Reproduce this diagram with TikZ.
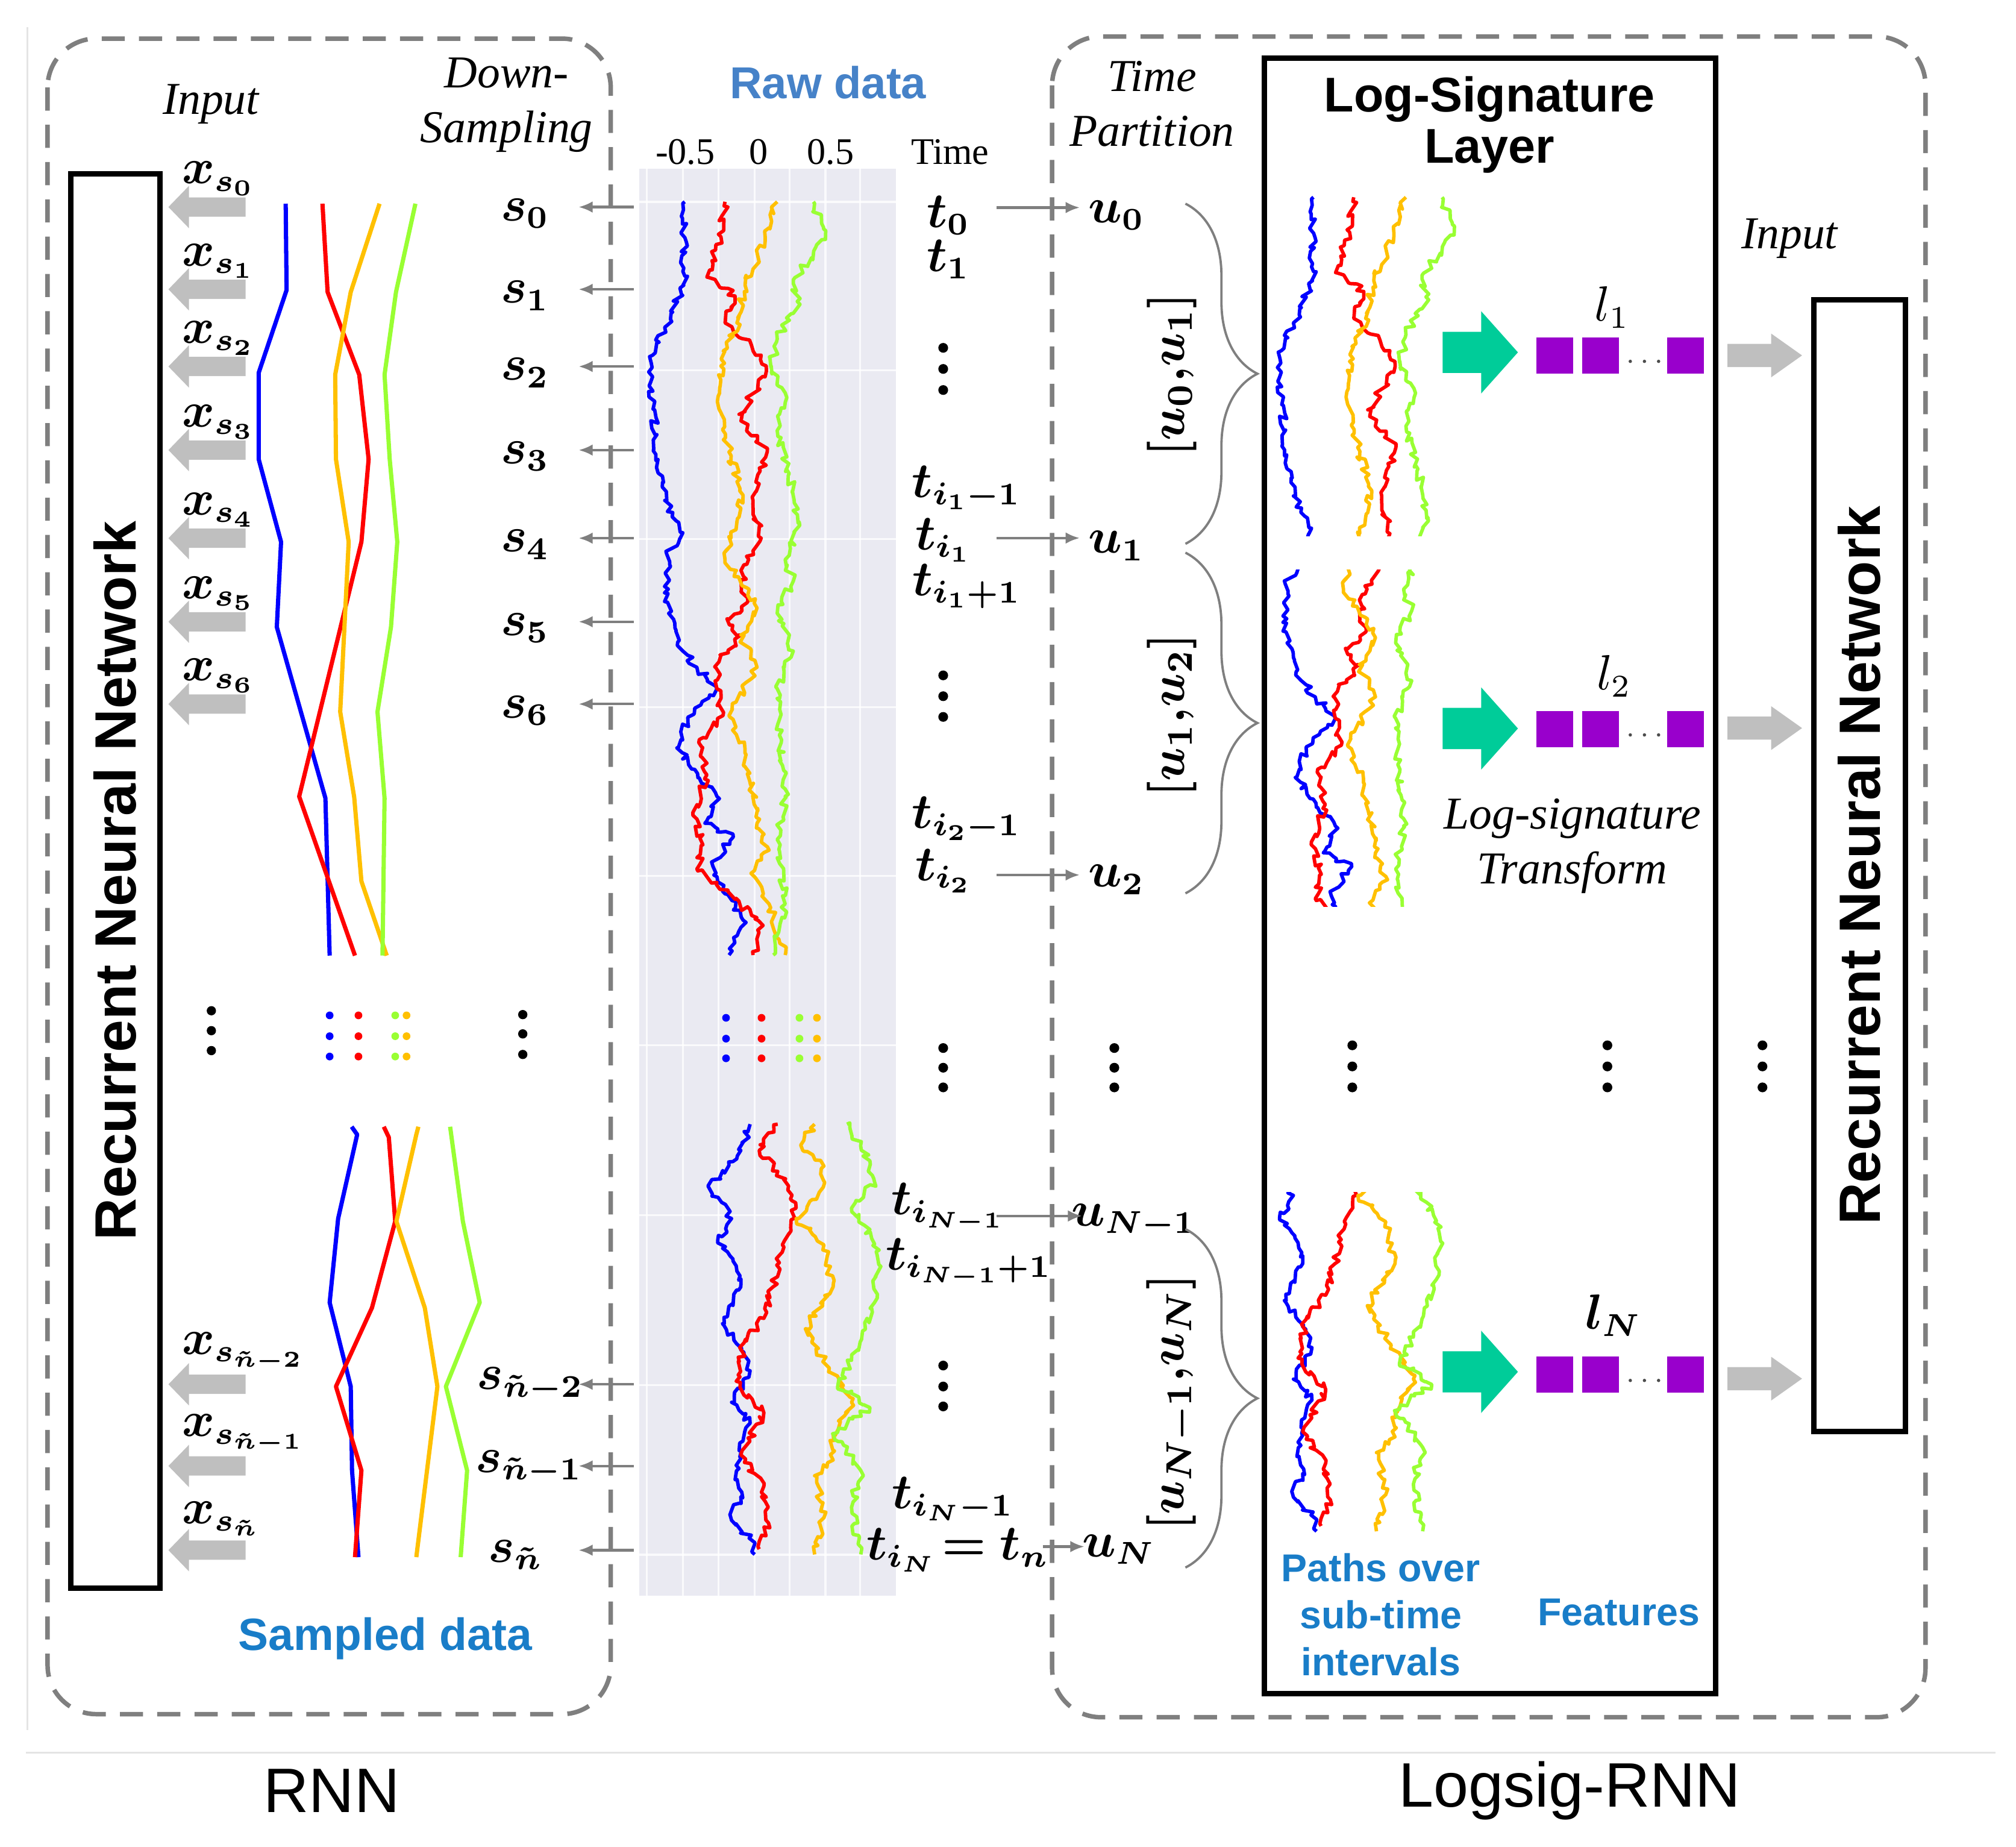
\documentclass[tikz,border=0pt]{standalone}
\usepackage{amsmath}
\usepackage{bm}
\usepackage{fontspec}
\setmainfont{Liberation Serif}
\setsansfont{Liberation Sans}
\usetikzlibrary{arrows.meta,decorations.pathmorphing,decorations.pathreplacing}
\definecolor{dgray}{RGB}{127,127,127}
\definecolor{lgray}{RGB}{191,191,191}
\definecolor{faintc}{RGB}{228,228,228}
\definecolor{rawbg}{RGB}{234,234,242}
\definecolor{pblue}{RGB}{0,0,255}
\definecolor{pred}{RGB}{255,0,0}
\definecolor{porange}{RGB}{255,192,0}
\definecolor{pgreen}{RGB}{153,255,51}
\definecolor{tealg}{RGB}{0,204,153}
\definecolor{purp}{RGB}{153,0,204}
\definecolor{rawtitle}{RGB}{70,130,200}
\definecolor{labblue}{RGB}{25,125,200}

% raw data paths (top part)
\newcommand\rawBT[1]{\draw[#1] (532.6,156.9) -- (531.8,221.8) -- (523.2,242.7) -- (507.6,276.2) -- (506.1,297.1) -- (512.3,368.2) -- (517,389.2) -- (531.1,414.3) -- (518.6,431) -- (520.1,477) -- (531.1,506.3) -- (542,518.9) -- (557.6,535.6) -- (545.1,548.2) -- (529.5,569.1) -- (526.4,581.6) -- (540.4,598.4) -- (557.6,619.3) -- (548.2,640.2) -- (570.1,648.6) -- (554.5,673.7) -- (577.9,715.5) -- (567,742.7);}
\newcommand\rawRT[1]{\draw[#1] (563.9,156.9) -- (560.7,184.1) -- (549.8,215.5) -- (571.7,230.2) -- (563.9,251.1) -- (592,276.2) -- (595.1,293) -- (574.8,322.2) -- (596.7,351.5) -- (585.7,389.2) -- (592,418.5) -- (576.3,443.6) -- (581,468.7) -- (565.4,481.2) -- (576.3,493.8) -- (559.2,514.7) -- (557.6,535.6) -- (562.3,556.5) -- (543.5,577.5) -- (549.8,602.6) -- (538.9,631.8) -- (546.7,656.9) -- (542,675.8) -- (557.6,686.2) -- (593.5,719.7) -- (585.7,742.7);}
\newcommand\rawOT[1]{\draw[#1] (604.5,156.9) -- (595.1,184.1) -- (585.7,209.2) -- (579.5,221.8) -- (573.2,251.1) -- (560.7,284.6) -- (559.2,318) -- (567,351.5) -- (577.9,385) -- (563.9,435.2) -- (588.8,472.8) -- (576.3,493.8) -- (588.8,518.9) -- (567,556.5) -- (579.5,585.8) -- (588.8,640.2) -- (598.2,661.1) -- (585.7,677.9) -- (598.2,703) -- (610.7,742.7);}
\newcommand\rawGT[1]{\draw[#1] (632.6,156.9) -- (642,186.2) -- (617,217.6) -- (620.1,234.4) -- (604.5,263.6) -- (599.8,284.6) -- (610.7,305.5) -- (604.5,334.8) -- (613.8,368.2) -- (621.6,405.9) -- (610.7,435.2) -- (617,451.9) -- (604.5,477) -- (617,506.3) -- (604.5,535.6) -- (607.6,577.5) -- (610.7,619.3) -- (604.5,652.8) -- (610.7,703) -- (601.4,742.7);}
% raw data paths (bottom part)
\newcommand\rawBB[1]{\draw[#1] (583.4,874.2) -- (576.2,894.6) -- (551.1,923.1) -- (569.0,947.6) -- (558.3,964) -- (572.6,984.4) -- (576.2,1000.7) -- (561.9,1029.3) -- (576.2,1049.7) -- (583.4,1066) -- (569.0,1090.5) -- (583.4,1106.8) -- (572.6,1139.5) -- (576.2,1164) -- (569.0,1182.3) -- (587.0,1200.7) -- (587.0,1208.8);}
\newcommand\rawRB[1]{\draw[#1] (604.9,874.2) -- (590.5,894.6) -- (604.9,910.9) -- (619.2,939.5) -- (608.5,968) -- (601.3,1000.7) -- (594.1,1025.2) -- (579.8,1041.5) -- (572.6,1074.1) -- (594.1,1098.6) -- (576.2,1131.3) -- (594.1,1155.8) -- (597.7,1184.3) -- (590.5,1204.7);}
\newcommand\rawOB[1]{\draw[#1] (633.6,874.2) -- (622.8,890.5) -- (640.8,906.8) -- (637.2,927.2) -- (619.2,947.6) -- (640.8,968) -- (648.0,1000.7) -- (626.4,1033.3) -- (640.8,1057.8) -- (662.3,1090.5) -- (648.0,1115) -- (648.0,1135.4) -- (633.6,1147.6) -- (640.8,1180.3) -- (633.6,1208.8);}
\newcommand\rawGB[1]{\draw[#1] (658.7,874.2) -- (676.6,902.7) -- (680.2,919.1) -- (662.3,939.5) -- (683.8,972.1) -- (680.2,1012.9) -- (662.3,1057.8) -- (651.5,1078.2) -- (676.6,1094.6) -- (648.0,1115) -- (669.5,1143.5) -- (662.3,1172.1) -- (669.5,1208.8);}
\newcommand\rawTop{%
  \pgfmathsetseed{101}\rawBT{rawline,pblue}%
  \pgfmathsetseed{102}\rawRT{rawline,pred}%
  \pgfmathsetseed{103}\rawOT{rawline,porange}%
  \pgfmathsetseed{104}\rawGT{rawline,pgreen}}
\newcommand\rawBot{%
  \pgfmathsetseed{201}\rawBB{rawline,pblue}%
  \pgfmathsetseed{202}\rawRB{rawline,pred}%
  \pgfmathsetseed{203}\rawOB{rawline,porange}%
  \pgfmathsetseed{204}\rawGB{rawline,pgreen}}

\tikzset{
  faint/.style={draw=faintc, line width=0.15mm},
  dashbox/.style={draw=dgray, line width=0.35mm, dash pattern=on 1.8mm off 1.1mm, rounded corners=3.8mm},
  nnbox/.style={draw=black, line width=0.42mm, inner sep=0pt},
  nntext/.style={font=\sffamily\bfseries\fontsize{12.9}{15}\selectfont, rotate=90, inner sep=0pt},
  itlab/.style={font=\itshape\fontsize{10.1}{12.1}\selectfont, align=center, inner sep=0pt},
  ticklab/.style={font=\fontsize{8.3}{10}\selectfont, inner sep=0pt},
  mlab/.style={font=\fontsize{10.6}{12}\selectfont, inner sep=0pt},
  brlab/.style={font=\fontsize{11}{13}\selectfont, inner sep=0pt, rotate=90},
  bluetitle/.style={font=\sffamily\bfseries\fontsize{9.9}{12}\selectfont, text=rawtitle, inner sep=0pt},
  bluelab/.style={font=\sffamily\bfseries\fontsize{8.6}{10.4}\selectfont, text=labblue, align=center, inner sep=0pt},
  smallarr/.style={draw=dgray, line width=0.2mm, -{Latex[length=1.1mm,width=0.9mm]}},
  dsline/.style={line width=0.33mm, line join=round},
  rawline/.style={line width=0.27mm, line join=round, decorate, decoration={random steps, segment length=0.33mm, amplitude=0.3mm}},
  brc/.style={draw=dgray, line width=0.18mm, decorate, decoration={brace, amplitude=5.6mm}},
  sq/.style={fill=purp, draw=none, minimum width=2.85mm, minimum height=2.8mm, inner sep=0pt},
  caption/.style={font=\sffamily\fontsize{13.9}{16}\selectfont, inner sep=0pt},
  inarr/.pic={\fill[lgray] (0,0) -- (16,-16.5) -- (16,-7.5) -- (60,-7.5) -- (60,7.5) -- (16,7.5) -- (16,16.5) -- cycle;},
  outarr/.pic={\fill[lgray] (0,0) -- (-24,-17) -- (-24,-9) -- (-58,-9) -- (-58,9) -- (-24,9) -- (-24,17) -- cycle;},
  tealarr/.pic={\fill[tealg] (0,0) -- (-28.6,-32) -- (-28.6,-16) -- (-58.6,-16) -- (-58.6,16) -- (-28.6,16) -- (-28.6,32) -- cycle;},
}

\begin{document}
\begin{tikzpicture}[x=0.1mm,y=-0.1mm]
\useasboundingbox (0,0) rectangle (1568,1436);

% faint frame lines
\draw[faint] (21.4,21) -- (21.4,1345.6);
\draw[faint] (20,1363) -- (1552,1363);

% raw data background and grid
\fill[rawbg] (497,131) rectangle (697,1241);
\foreach \gx in {503,531,559,587,614,642,669}
  \draw[white, line width=0.15mm, opacity=0.8] (\gx,131) -- (\gx,1241);
\foreach \gy in {157,288,419,550,681,813,945,1077,1209}
  \draw[white, line width=0.15mm, opacity=0.8] (497,\gy) -- (697,\gy);

% dashed panels
\draw[dashbox] (37,30) rectangle (475,1333);
\draw[dashbox] (818.3,28.4) rectangle (1497.6,1335.4);

% RNN boxes
\node[nnbox, minimum width=6.91mm, minimum height=110mm] (rnnL) at (89.7,685) {};
\node[nntext] (rnnLt) at (rnnL.center) {Recurrent Neural Network};
\node[nnbox, minimum width=7.13mm, minimum height=88mm] (rnnR) at (1446.2,673) {};
\node[nntext] (rnnRt) at (rnnR.center) {Recurrent Neural Network};
\node[nnbox, minimum width=35.09mm, minimum height=127.16mm] (lsbox) at (1159,681.2) {};

% titles
\node[itlab] (inL) at (164,81) {Input};
\node[itlab] (dsL) at (394,81.5) {Down-\\Sampling};
\node[bluetitle] (rawT) at (644,64) {Raw data};
\node[ticklab] (tk1) at (533,118) {-0.5};
\node[ticklab] (tk2) at (590,118) {0};
\node[ticklab] (tk3) at (646,118) {0.5};
\node[ticklab] (tk4) at (739,118) {Time};
\node[itlab] (tpart) at (896,80.7) {Time\\Partition};
\node[font=\sffamily\bfseries\fontsize{10.8}{11.4}\selectfont, align=center, inner sep=0pt] (lsT) at (1158.6,97) {Log-Signature\\Layer};
\node[itlab] (inR) at (1391.8,185.3) {Input};
\node[font=\sffamily\bfseries\fontsize{10}{12}\selectfont, text=labblue, inner sep=0pt] (sampT) at (299.8,1274.2) {Sampled data};

% left panel: input arrows and x labels
\foreach \k/\yy in {0/161,1/225,2/285,3/350,4/418.5,5/483.5,6/547.5}{
  \pic at (131,\yy) {inarr};
  \node[mlab, anchor=west] (x\k) at (141,\yy-22) {$\bm{x_{s_{\k}}}$};
  \coordinate (sa\k) at (493,\yy);
  \coordinate (sb\k) at (450,\yy);
  \draw[smallarr] (sa\k) -- (sb\k);
  \node[mlab] (s\k) at (408.6,\yy+5) {$\bm{s_{\k}}$};
}
\pic at (131,1076.5) {inarr};
\pic at (131,1140) {inarr};
\pic at (131,1205.5) {inarr};
\node[mlab, anchor=west] (xa) at (141,1051.5) {$\bm{x_{s_{\tilde{n}-2}}}$};
\node[mlab, anchor=west] (xb) at (141,1115.5) {$\bm{x_{s_{\tilde{n}-1}}}$};
\node[mlab, anchor=west] (xc) at (141,1181) {$\bm{x_{s_{\tilde{n}}}}$};
\coordinate (saa) at (493,1076.5); \coordinate (sba) at (450,1076.5);
\coordinate (sab) at (493,1140);   \coordinate (sbb) at (450,1140);
\coordinate (sac) at (493,1205.5); \coordinate (sbc) at (450,1205.5);
\draw[smallarr] (saa) -- (sba);
\draw[smallarr] (sab) -- (sbb);
\draw[smallarr] (sac) -- (sbc);
\node[mlab] (sna) at (412.6,1077) {$\bm{s_{\tilde{n}-2}}$};
\node[mlab] (snb) at (411.6,1141.5) {$\bm{s_{\tilde{n}-1}}$};
\node[mlab] (snc) at (401,1209) {$\bm{s_{\tilde{n}}}$};

% left panel: down-sampled paths
\draw[dsline, pblue] (222.2,158.4) -- (222.9,225.6) -- (201.2,289.9) -- (201.2,357.1) -- (218.6,421.4) -- (215.3,487.6) -- (253.1,620.7) -- (256.4,743.1);
\draw[dsline, pred] (250.8,158.4) -- (254.8,227.1) -- (279.4,291.4) -- (286.7,357.1) -- (281.1,421.4) -- (232.7,619.4) -- (276.1,743.1);
\draw[dsline, porange] (295.2,158.4) -- (272.8,227.1) -- (260.7,291.4) -- (261.3,357.1) -- (271.2,421.4) -- (264.6,553.5) -- (275.5,620) -- (281.1,685.3) -- (300.8,743.1);
\draw[dsline, pgreen] (323.1,158.4) -- (308,227.1) -- (299.1,291.4) -- (303.1,357.1) -- (309,421.4) -- (304.1,487.6) -- (293.6,553.5) -- (299.1,620.7) -- (297.5,743.1);
\draw[dsline, pblue] (273.5,876.2) -- (277.8,882.3) -- (263,947.6) -- (256.4,1012.9) -- (272.8,1078.2) -- (273.8,1143.5) -- (278.8,1210.9);
\draw[dsline, pred] (298.5,876.2) -- (302.4,884.4) -- (307.4,949.7) -- (289.3,1017) -- (261.3,1078.2) -- (281.1,1143.5) -- (276.1,1210.9);
\draw[dsline, porange] (325.4,876.2) -- (323.8,882.3) -- (308.3,949.7) -- (330.4,1017) -- (340.2,1078.2) -- (323.8,1210.9);
\draw[dsline, pgreen] (350.1,876.2) -- (360,949.7) -- (373.1,1012.9) -- (346.8,1078.2) -- (363.3,1143.5) -- (358.3,1210.9);

% dots (left panel)
\foreach \yy in {789.6,805.8,821.6}{
  \fill[pblue] (256.4,\yy) circle[radius=3];
  \fill[pred] (278.8,\yy) circle[radius=3];
  \fill[pgreen] (307.4,\yy) circle[radius=3];
  \fill[porange] (316.2,\yy) circle[radius=3];
}
\foreach \yy in {786,801.5,817} \fill (164.4,\yy) circle[radius=3.6];
\foreach \yy in {789,804,820} \fill (406.6,\yy) circle[radius=3.6];

% raw data paths
\rawTop
\rawBot
\foreach \yy in {791.5,807.7,823}{
  \fill[pblue] (564.7,\yy) circle[radius=3];
  \fill[pred] (592.3,\yy) circle[radius=3];
  \fill[pgreen] (621.8,\yy) circle[radius=3];
  \fill[porange] (635.4,\yy) circle[radius=3];
}

% time labels
\node[mlab] (t0) at (737.6,167.4) {$\bm{t_0}$};
\node[mlab] (t1) at (737.6,201.7) {$\bm{t_1}$};
\node[mlab] (ti1m) at (752,379.6) {$\bm{t_{i_1-1}}$};
\node[mlab] (ti1) at (734,420) {$\bm{t_{i_1}}$};
\node[mlab] (ti1p) at (752,456) {$\bm{t_{i_1+1}}$};
\node[mlab] (ti2m) at (752,636.9) {$\bm{t_{i_2-1}}$};
\node[mlab] (ti2) at (734,677.2) {$\bm{t_{i_2}}$};
\node[mlab] (tiNm) at (737.6,939.5) {$\bm{t_{i_{N-1}}}$};
\node[mlab] (tiNp) at (753.7,982.3) {$\bm{t_{i_{N-1}+1}}$};
\node[mlab] (tiNb) at (741.2,1166) {$\bm{t_{i_N-1}}$};
\node[mlab] (tiN) at (745,1205.5) {$\bm{t_{i_N}\!= t_n}$};
\foreach \yy in {270.5,286.9,303.3,525.2,541.4,557.5,815,830.3,845.6,1061.9,1078.2,1093.7}
  \fill (733.6,\yy) circle[radius=3.8];

% u labels and arrows
\node[mlab] (u0) at (868.5,167.4) {$\bm{u_0}$};
\node[mlab] (u1) at (868.5,424.4) {$\bm{u_1}$};
\node[mlab] (u2) at (868.5,684) {$\bm{u_2}$};
\node[mlab] (uNm) at (882,949.7) {$\bm{u_{N-1}}$};
\node[mlab] (uN) at (870.3,1204.8) {$\bm{u_N}$};
\coordinate (a0s) at (775.3,161.4); \coordinate (a0e) at (839.8,161.4);
\coordinate (a1s) at (775.3,418.4); \coordinate (a1e) at (839.8,418.4);
\coordinate (a2s) at (775.3,680.4); \coordinate (a2e) at (839.8,680.4);
\coordinate (a3s) at (775.3,945.6); \coordinate (a3e) at (841.6,945.6);
\coordinate (a4s) at (811,1202.7); \coordinate (a4e) at (843.4,1202.7);
\draw[smallarr] (a0s) -- (a0e);
\draw[smallarr] (a1s) -- (a1e);
\draw[smallarr] (a2s) -- (a2e);
\draw[smallarr] (a3s) -- (a3e);
\draw[smallarr] (a4s) -- (a4e);
\foreach \yy in {815,830.3,845.6} \fill (866.7,\yy) circle[radius=3.8];

% braces
\coordinate (b1t) at (922,158.4); \coordinate (b1b) at (922,422.9);
\coordinate (b2t) at (922,429.8); \coordinate (b2b) at (922,694.7);
\coordinate (b3t) at (922,955.8); \coordinate (b3b) at (922,1219);
\draw[brc] (b1t) -- (b1b);
\draw[brc] (b2t) -- (b2b);
\draw[brc] (b3t) -- (b3b);
\node[brlab] (br1) at (911.6,291.4) {$\bm{[u_0{,}u_1]}$};
\node[brlab] (br2) at (911.6,556.2) {$\bm{[u_1{,}u_2]}$};
\node[brlab] (br3) at (911.6,1090.5) {$\bm{[u_{N-1}{,}u_N]}$};

% log-signature layer: paths over sub-time intervals
\begin{scope}
  \clip (985,150) rectangle (1140,417);
  \begin{scope}[shift={(489,-3.5)}] \rawTop \end{scope}
\end{scope}
\begin{scope}
  \clip (985,443) rectangle (1140,705);
  \begin{scope}[shift={(481,23)}] \rawTop \end{scope}
\end{scope}
\begin{scope}
  \clip (985,927) rectangle (1140,1194);
  \begin{scope}[shift={(437,-18)}] \rawBot \end{scope}
\end{scope}

% log-signature transforms and features
\foreach \yy/\ly/\nm in {274/276.5/1,566.5/567/2,1066.8/1069/N}{
  \pic at (1180.6,\yy) {tealarr};
  \node[sq] (f\nm a) at (1209.3,\ly) {};
  \node[sq] (f\nm b) at (1244.8,\ly) {};
  \node[sq] (f\nm c) at (1310.8,\ly) {};
  \foreach \dx in {1268,1279,1290} \fill[black!70] (\dx,\ly+4.5) circle[radius=1.3];
}
\pic at (1401.6,276.4) {outarr};
\pic at (1401.6,566.2) {outarr};
\pic at (1401.6,1072.1) {outarr};
\node[mlab] (l1) at (1254,239) {$l_1$};
\node[mlab] (l2) at (1255.5,525.8) {$l_2$};
\node[mlab] (lN) at (1255,1023) {$\bm{l_N}$};
\node[itlab] (lst) at (1223,658) {Log-signature\\Transform};
\foreach \xx in {1051.8,1250.2,1370.8}
  \foreach \yy in {812.9,829.3,845.6} \fill (\xx,\yy) circle[radius=3.8];
\node[bluelab] (paths) at (1074,1255.8) {Paths over\\sub-time\\intervals};
\node[bluelab] (feat) at (1259,1253.8) {Features};

% captions
\node[caption] (capL) at (258,1392.5) {RNN};
\node[caption] (capR) at (1220.8,1392.5) {Logsig-RNN};
\end{tikzpicture}
\end{document}
